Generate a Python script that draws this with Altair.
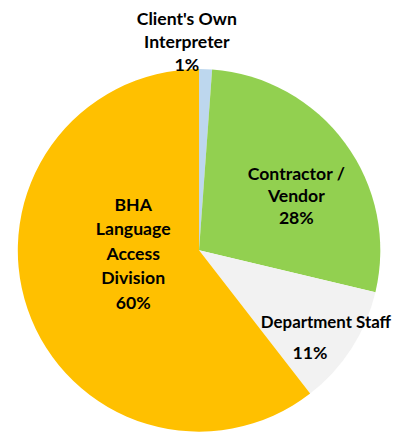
import altair as alt
import pandas as pd

categories = ["Client's Own Interpreter", "Contractor / Vendor", "Department Staff", "BHA Language Access Division"]
values = [1.15, 27.55, 10.8, 60.5]
pct_labels = ["1%", "28%", "11%", "60%"]
colors = ["#BDD7EE", "#92D050", "#F2F2F2", "#FFC000"]

df = pd.DataFrame({
    "cat": categories,
    "value": values,
    "pct": pct_labels,
    "order": list(range(len(categories))),
})

FONT = "Lato"
FS = 18

pie = alt.Chart(df).mark_arc(outerRadius=185).encode(
    theta=alt.Theta("value:Q", stack=True),
    order=alt.Order("order:Q"),
    color=alt.Color("cat:N", scale=alt.Scale(domain=categories, range=colors), legend=None),
)

lab_base = alt.Chart(df).transform_window(
    cum="sum(value)", sort=[alt.SortField("order")], frame=[None, 0]
).transform_calculate(
    mid="datum.cum - datum.value / 2"
)


def label(cat, text_expr, radius, dx, dy, line_height, align="center", fs=FS):
    return lab_base.transform_filter(alt.datum.cat == cat).transform_calculate(
        lab=text_expr
    ).mark_text(
        radius=radius, dx=dx, dy=dy, font=FONT, fontSize=fs, fontWeight="bold",
        color="#000000", lineBreak="\n", lineHeight=line_height, align=align,
        baseline="middle",
    ).encode(
        theta=alt.Theta("mid:Q", stack=False),
        text="lab:N",
    )


l_client = label(categories[0], "\"Client's Own\\nInterpreter\\n\" + datum.pct", 209, -20, -26, 23.5)
l_contr = label(categories[1], "'Contractor /\\nVendor\\n' + datum.pct", 112, 9, -11, 22.5)
l_dept = label(categories[2], "'Department Staff'", 100, -21, 20, 20, align="left", fs=17.2)
l_dept_pct = label(categories[2], "datum.pct", 150, -13, 25, 20)
l_bha = label(categories[3], "'BHA\\nLanguage\\nAccess\\nDivision\\n' + datum.pct", 70, -1, -68, 25)

chart = alt.layer(pie, l_client, l_contr, l_dept, l_dept_pct, l_bha).properties(
    width=366,
    height=362,
    padding={"left": 12, "top": 62, "right": 17, "bottom": 0},
    autosize=alt.AutoSizeParams(type="none"),
).configure_view(stroke=None).configure(background="#FFFFFF")

chart.save("out.html", embed_options={"renderer": "svg", "actions": False})
